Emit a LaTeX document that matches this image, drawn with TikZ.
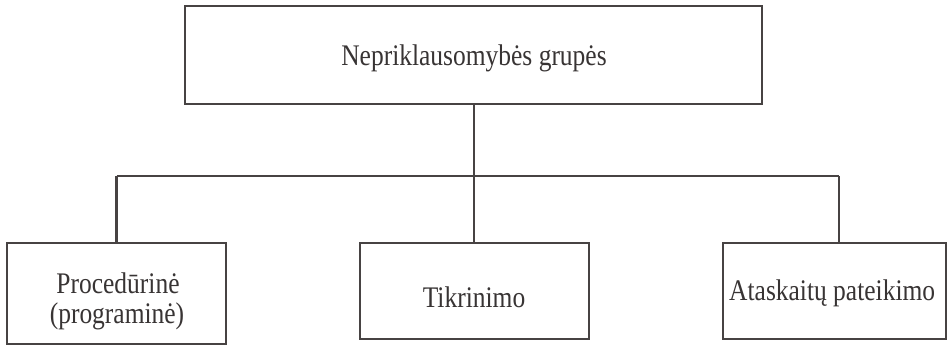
\documentclass[tikz,border=0pt]{standalone}
\usepackage{fontspec}
\setmainfont{Liberation Serif}
\definecolor{linec}{HTML}{474343}
\definecolor{textc}{HTML}{383434}
\newcommand{\tallt}[1]{\scalebox{0.98}[1.15]{#1}}
\begin{document}
\begin{tikzpicture}[x=1pt,y=1pt,
  boxst/.style={draw=linec,line width=2.2pt,fill=white,inner sep=0pt},
  labst/.style={text=textc,font=\fontsize{26}{32}\selectfont,align=center,inner sep=0pt},
  conn/.style={draw=linec,line width=2.4pt}]
\useasboundingbox (0,0) rectangle (947,-346);
\node[boxst,minimum width=577pt,minimum height=98pt] (top) at (473.5,-55) {};
\node[boxst,minimum width=219pt,minimum height=101pt] (left) at (116.5,-293.5) {};
\node[boxst,minimum width=229pt,minimum height=96pt] (mid) at (474.5,-291) {};
\node[boxst,minimum width=223pt,minimum height=96pt] (right) at (834.5,-291) {};
\node[labst] (tlab) at (474,-58) {\tallt{Nepriklausomyb\.es grup\.es}};
\node[labst] (llab1) at (118,-283) {\tallt{Proced\=urin\.e}};
\node[labst] (llab2) at (117,-316) {\tallt{(programin\.e)}};
\node[labst] (mlab) at (474,-297) {\tallt{Tikrinimo}};
\node[labst,anchor=west] (rlab) at (729,-293) {\tallt{Ataskait\k{u} pateikimo}};
\coordinate (hub) at (474,-176);
\coordinate (hl) at (116.5,-176);
\coordinate (hr) at (839,-176);
\draw[conn] (top.south -| hub) -- (hub);
\draw[conn] (hl) -- (hr);
\draw[conn] (hl) -- (hl |- left.north);
\draw[conn] (hub) -- (hub |- mid.north);
\draw[conn] (hr) -- (hr |- right.north);
\end{tikzpicture}
\end{document}
